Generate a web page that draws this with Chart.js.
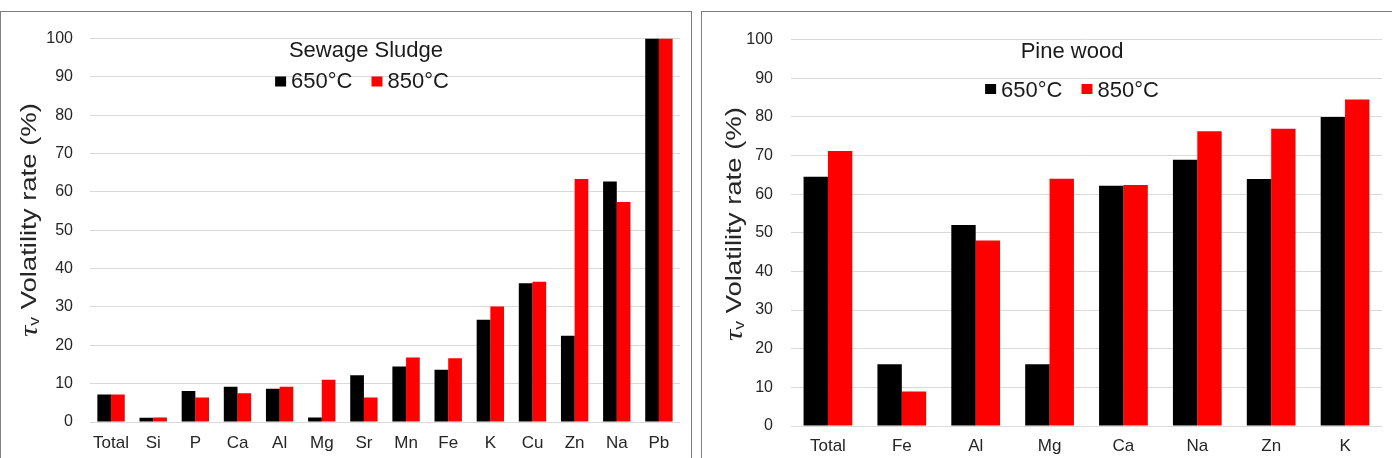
<!DOCTYPE html>
<html>
<head>
<meta charset="utf-8">
<script src="https://cdn.jsdelivr.net/npm/chart.js@4.4.1/dist/chart.umd.min.js"></script>
<style>
  html, body { margin: 0; padding: 0; background: #ffffff; width: 1392px; height: 458px; overflow: hidden; }
  .panel { position: absolute; top: 11px; height: 470px; border: 1px solid #7f7f7f; background: #fff; box-sizing: content-box; }
  #p1 { left: 0px; width: 690px; }
  #p2 { left: 701px; width: 692px; }
  canvas { position: absolute; left: 0; top: 0; }
</style>
</head>
<body>
<div class="panel" id="p1"><canvas id="c1" width="690" height="446"></canvas></div>
<div class="panel" id="p2"><canvas id="c2" width="690" height="446"></canvas></div>
<script>
// ---- data ----
const sludgeCategories = ['Total', 'Si', 'P', 'Ca', 'Al', 'Mg', 'Sr', 'Mn', 'Fe', 'K', 'Cu', 'Zn', 'Na', 'Pb'];
const sludge650 = [7.2, 1.1, 8.1, 9.2, 8.7, 1.2, 12.2, 14.5, 13.6, 26.7, 36.2, 22.5, 62.7, 100];
const sludge850 = [7.2, 1.2, 6.4, 7.5, 9.2, 11.0, 6.4, 16.8, 16.6, 30.1, 36.6, 63.4, 57.4, 100];

const pineCategories = ['Total', 'Fe', 'Al', 'Mg', 'Ca', 'Na', 'Zn', 'K'];
const pine650 = [64.5, 16.0, 52.0, 16.0, 62.2, 68.9, 63.9, 80.0];
const pine850 = [71.2, 8.9, 48.0, 64.0, 62.4, 76.3, 76.9, 84.5];

const seriesLabels = ['650°C', '850°C'];
const seriesColors = ['#000000', '#ff0000'];
const panelTitles = ['Sewage Sludge', 'Pine wood'];
const yAxisTitleMain = ' Volatility rate (%)';
const yAxisTitleSymbol = 'τ';
const yAxisTitleSub = 'v';
const yMin = 0, yMax = 100, yStep = 10;

const FONT = '"Liberation Sans", Arial, sans-serif';

const panelText = {
  id: 'panelText',
  afterDraw(chart, args, o) {
    const ctx = chart.ctx;
    ctx.save();
    // title
    ctx.fillStyle = '#1a1a1a';
    ctx.textBaseline = 'alphabetic';
    ctx.textAlign = 'center';
    ctx.font = o.titleSize + 'px ' + FONT;
    ctx.fillText(o.title, o.titleX, o.titleY);
    // legend
    ctx.font = o.legendSize + 'px ' + FONT;
    ctx.textAlign = 'left';
    const boxW = 11, boxH = 10, gapBox = 5, gapItem = 19;
    const items = chart.data.datasets.map(d => ({ label: d.label, color: d.backgroundColor, w: ctx.measureText(d.label).width }));
    let total = 0;
    items.forEach((it, i) => { total += boxW + gapBox + it.w + (i ? gapItem : 0); });
    let x = o.legendX - total / 2;
    items.forEach(it => {
      ctx.fillStyle = it.color;
      ctx.fillRect(x, o.legendY - o.boxDrop - boxH, boxW, boxH);
      x += boxW + gapBox;
      ctx.fillStyle = '#1a1a1a';
      ctx.fillText(it.label, x, o.legendY);
      x += it.w + gapItem;
    });
    // y axis title (rotated)
    ctx.translate(o.axisX, o.axisY);
    ctx.rotate(-Math.PI / 2);
    ctx.scale(o.axisStretch, 1);
    ctx.fillStyle = '#262626';
    ctx.textBaseline = 'middle';
    const fMain = o.axisSize + 'px ' + FONT;
    const fSym = 'italic ' + (o.axisSize + 3) + 'px "Liberation Serif", serif';
    const fSub = Math.round(o.axisSize * 0.65) + 'px ' + FONT;
    ctx.font = fSym; const wSym = ctx.measureText(yAxisTitleSymbol).width;
    ctx.font = fSub; const wSub = ctx.measureText(yAxisTitleSub).width;
    ctx.font = fMain; const wMain = ctx.measureText(yAxisTitleMain).width;
    let tx = -(wSym + wSub + wMain) / 2;
    ctx.textAlign = 'left';
    ctx.font = fSym; ctx.fillText(yAxisTitleSymbol, tx, 0); tx += wSym;
    ctx.font = fSub; ctx.fillText(yAxisTitleSub, tx, 5); tx += wSub;
    ctx.font = fMain; ctx.fillText(yAxisTitleMain, tx, 0);
    ctx.restore();
  }
};

function makeChart(id, cats, a, b, cfg) {
  return new Chart(document.getElementById(id), {
    type: 'bar',
    data: {
      labels: cats,
      datasets: [
        { label: seriesLabels[0], data: a, backgroundColor: seriesColors[0], borderWidth: 0 },
        { label: seriesLabels[1], data: b, backgroundColor: seriesColors[1], borderWidth: 0 }
      ]
    },
    plugins: [panelText],
    options: {
      responsive: false,
      animation: false,
      devicePixelRatio: 1,
      layout: { padding: { left: 0, right: cfg.padRight, top: cfg.padTop, bottom: 0 } },
      datasets: { bar: { categoryPercentage: cfg.catPct, barPercentage: 1.0 } },
      plugins: {
        legend: { display: false },
        title: { display: false },
        tooltip: { enabled: false },
        panelText: cfg.text
      },
      scales: {
        x: {
          grid: { display: false, drawTicks: false },
          border: { display: false },
          ticks: { color: '#262626', font: { family: FONT, size: cfg.xFont }, padding: cfg.xPad, maxRotation: 0, autoSkip: false },
          afterFit: s => { s.height = cfg.xHeight; }
        },
        y: {
          min: yMin, max: yMax,
          grid: { color: '#d9d9d9', lineWidth: 1, drawTicks: false },
          border: { display: false },
          ticks: { stepSize: yStep, color: '#262626', font: { family: FONT, size: 16 }, padding: cfg.yPad },
          afterFit: s => { s.width = cfg.yWidth; }
        }
      }
    }
  });
}

makeChart('c1', sludgeCategories, sludge650, sludge850, {
  padRight: 11, padTop: 16, catPct: 0.65, xFont: 17, xPad: 11, xHeight: 36, yPad: 17, yWidth: 89,
  text: { title: panelTitles[0], titleSize: 22, titleX: 365, titleY: 45,
          legendSize: 22, legendX: 361, legendY: 76, boxDrop: 1.5,
          axisX: 29, axisY: 208, axisSize: 22, axisStretch: 1.25 }
});
makeChart('c2', pineCategories, pine650, pine850, {
  padRight: 10, padTop: 16, catPct: 0.66, xFont: 17, xPad: 10, xHeight: 32, yPad: 18, yWidth: 89,
  text: { title: panelTitles[1], titleSize: 22, titleX: 370, titleY: 46,
          legendSize: 22, legendX: 370, legendY: 85, boxDrop: 3,
          axisX: 33, axisY: 212, axisSize: 22, axisStretch: 1.25 }
});
</script>
</body>
</html>
